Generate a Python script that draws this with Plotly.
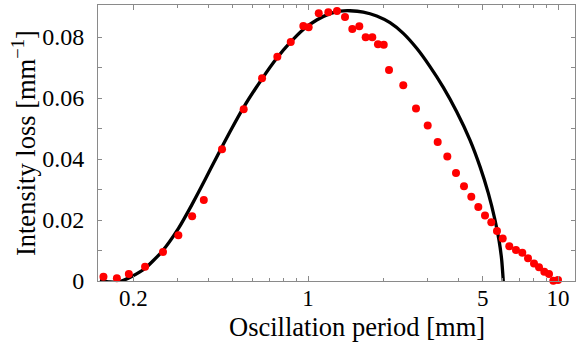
import plotly.graph_objects as go

# measured data (red dots)
period_pts = [0.152, 0.172, 0.192, 0.223, 0.263, 0.303, 0.344, 0.383, 0.453, 0.553,
              0.655, 0.754, 0.853, 0.958, 1.006, 1.104, 1.206, 1.306, 1.406, 1.504,
              1.604, 1.701, 1.808, 1.905, 2.009, 2.109, 2.405, 2.704, 3.012, 3.302,
              3.608, 3.908, 4.207, 4.50, 4.80, 5.105, 5.41, 5.70, 6.01, 6.385,
              6.79, 7.197, 7.586, 8.017, 8.395, 8.815, 9.204, 9.576, 10.0]
loss_pts = [0.0014, 0.0009, 0.0023, 0.0047, 0.0095, 0.0150, 0.0212, 0.0266, 0.0432, 0.0563,
            0.0665, 0.0735, 0.0784, 0.0836, 0.0832, 0.0878, 0.0881, 0.0885, 0.0866, 0.0826,
            0.0835, 0.0799, 0.0799, 0.0776, 0.0775, 0.0692, 0.0642, 0.0566, 0.0510, 0.0456,
            0.0408, 0.0354, 0.0311, 0.0276, 0.0243, 0.0215, 0.0193, 0.0164, 0.0139, 0.0114,
            0.0102, 0.0093, 0.0075, 0.0057, 0.0045, 0.0030, 0.0023, 0.0001, 0.0003]

# model curve (black line)
period_fit = [0.1472, 0.1614, 0.1770, 0.1971, 0.2228, 0.2600, 0.3029, 0.3425, 0.3873, 0.4325,
              0.4875, 0.5511, 0.6529, 0.7496, 0.8472, 0.9576, 1.0834, 1.2246, 1.3428, 1.4723,
              1.6643, 1.8831, 2.1281, 2.4055, 2.7214, 3.0761, 3.4771, 3.9338, 4.4463, 4.8753,
              5.2626, 5.5976, 5.8076, 5.9537, 6.0418]
loss_fit = [0.00033, -0.00033, -0.00016, 0.00148, 0.0041, 0.00957, 0.01718, 0.02489, 0.03318, 0.04085,
            0.04895, 0.05679, 0.06613, 0.07302, 0.07813, 0.08249, 0.08557, 0.08767, 0.08849, 0.08862,
            0.0882, 0.0869, 0.0847, 0.0812, 0.0763, 0.0703, 0.0635, 0.0555, 0.0462, 0.0375,
            0.0288, 0.0200, 0.0134, 0.0069, 0.0]

x_tickvals = [0.2, 1, 5, 10]
x_ticktext = ["0.2", "1", "5", "10"]
x_minor = [0.3, 0.4, 0.5, 0.6, 0.7, 0.8, 0.9, 2, 3, 4, 6, 7, 8, 9]
y_tickvals = [0, 0.02, 0.04, 0.06, 0.08]
y_ticktext = ["0", "0.02", "0.04", "0.06", "0.08"]
y_minor = [0.01, 0.03, 0.05, 0.07]

FONT = "Liberation Serif"
AX = "#8a8a8a"

fig = go.Figure()
fig.add_trace(go.Scatter(x=period_fit, y=loss_fit, mode="lines",
                         line=dict(color="black", width=3.3, shape="spline", smoothing=0.5),
                         cliponaxis=False, showlegend=False))
fig.add_trace(go.Scatter(x=period_pts, y=loss_pts, mode="markers",
                         marker=dict(color="#ff0000", size=8, line=dict(width=0)),
                         cliponaxis=False, showlegend=False))

fig.update_layout(
    width=576, height=344,
    margin=dict(l=98, r=1, t=5, b=63),
    paper_bgcolor="white", plot_bgcolor="white",
    font=dict(family=FONT, size=23, color="black"),
    xaxis=dict(type="log", range=[-0.840, 1.068], showgrid=False, zeroline=False,
               showline=True, linecolor=AX, linewidth=1, mirror="ticks",
               ticks="inside", ticklen=5, tickcolor=AX, tickwidth=1,
               tickvals=x_tickvals, ticktext=x_ticktext, ticklabelstandoff=-4,
               tickfont=dict(family=FONT, size=23),
               minor=dict(tickvals=x_minor, ticks="inside", ticklen=3, tickcolor=AX, tickwidth=1, showgrid=False)),
    yaxis=dict(range=[0, 0.0905], showgrid=False, zeroline=False,
               showline=True, linecolor=AX, linewidth=1, mirror="ticks",
               ticks="inside", ticklen=4, tickcolor=AX, tickwidth=1,
               tickvals=y_tickvals, ticktext=y_ticktext, ticklabelstandoff=8,
               tickfont=dict(family=FONT, size=24),
               minor=dict(tickvals=y_minor, ticks="inside", ticklen=4, tickcolor=AX, tickwidth=1, showgrid=False)),
    annotations=[
        dict(text="Oscillation period [mm]", xref="paper", yref="paper", x=0.543, y=-0.166,
             xanchor="center", yanchor="middle", showarrow=False, font=dict(family=FONT, size=26.5)),
        dict(text="Intensity loss [mm<sup>−1</sup>]", xref="paper", yref="paper", x=-0.155, y=0.5,
             xanchor="center", yanchor="middle", textangle=-90, showarrow=False, font=dict(family=FONT, size=26.5)),
    ],
)

fig.write_html("out.html")
